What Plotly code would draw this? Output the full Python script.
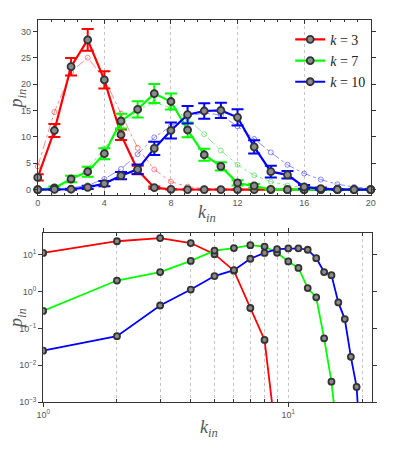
import plotly.graph_objects as go

# data (p_in in %, per k_in)
k_in = list(range(21))

p_k3 = [2.3, 11.2, 23.3, 28.4, 20.8, 10.4, 3.7, 0.36, 0.049, 6.7e-5,
        0, 0, 0, 0, 0, 0, 0, 0, 0, 0, 0]
p_k7 = [0, 0.3, 2.0, 3.4, 6.8, 13.0, 15.2, 18.2, 16.7, 11.3, 6.6,
        4.4, 1.25, 0.7, 0.054, 0.0036, 7e-5, 0, 0, 0, 0]
p_k10 = [0, 0.025, 0.062, 0.42, 1.14, 2.64, 3.83, 7.8, 11.2, 14.2, 14.9,
         15.0, 13.7, 8.1, 3.4, 2.8, 0.51, 0.18, 0.017, 0.0026, 1.2e-5]

err_k3 = [0.6, 1.25, 1.65, 2.05, 1.65, 1.0, 0.8, 0.2, 0.05, 0,
          0, 0, 0, 0, 0, 0, 0, 0, 0, 0, 0]
err_k7 = [0, 0.3, 0.6, 0.95, 1.05, 1.4, 1.55, 1.8, 1.5, 1.4, 1.15,
          0.8, 0.5, 0.35, 0.1, 0, 0, 0, 0, 0, 0]
err_k10 = [0, 0.05, 0.1, 0.3, 0.5, 0.7, 0.9, 1.25, 1.5, 1.65, 1.45,
           1.45, 1.55, 1.25, 1.1, 0.7, 0.35, 0.2, 0.1, 0, 0]

# thin dash-dot reference curves
ref_k3 = [4.4, 14.7, 22.3, 25.0, 21.0, 14.4, 7.9, 3.8, 1.5, 0.56, 0.2,
          0.06, 0.02, 0, 0, 0, 0, 0, 0, 0, 0]
ref_k7 = [0.05, 0.3, 1.8, 4.0, 7.8, 12.0, 15.0, 16.5, 15.5, 13.5, 10.5,
          7.4, 4.7, 2.7, 1.5, 0.75, 0.4, 0.2, 0.1, 0.05, 0.02]
ref_k10 = [0.02, 0.1, 0.3, 0.8, 2.0, 3.9, 6.7, 9.9, 12.0, 13.8, 14.6,
           14.1, 12.0, 9.6, 7.05, 4.7, 3.05, 1.9, 1.0, 0.5, 0.2]

series = [
    ("3", p_k3, err_k3, ref_k3, "#ff0000", "rgba(255,0,0,0.45)"),
    ("7", p_k7, err_k7, ref_k7, "#00ff00", "rgba(0,200,0,0.45)"),
    ("10", p_k10, err_k10, ref_k10, "#0000ff", "rgba(0,0,255,0.45)"),
]

log_x_ticks = [1, 10]
log_x_text = ["10<sup>0</sup>", "10<sup>1</sup>"]
log_y_ticks = [0.001, 0.01, 0.1, 1, 10]
log_y_text = ["10<sup>\u22123</sup>", "10<sup>\u22122</sup>",
              "10<sup>\u22121</sup>", "10<sup>0</sup>", "10<sup>1</sup>"]

W, H = 399, 451
AX = "#333333"
GRID = "#c4c4c4"
TICKFONT = dict(family="Liberation Sans", size=9, color="#555555")
SERIF = "Liberation Serif"

fig = go.Figure()

# top panel: dash-dot references first so the solid lines sit on top
for k, p, e, ref, col, faded in series:
    fig.add_trace(go.Scatter(
        x=k_in, y=ref, mode="lines+markers", showlegend=False,
        line=dict(color=faded, width=1, dash="dashdot"),
        marker=dict(symbol="circle-open", size=5, color=faded,
                    line=dict(width=1)),
        cliponaxis=False, xaxis="x", yaxis="y",
    ))

for k, p, e, ref, col, faded in series:
    fig.add_trace(go.Scatter(
        x=k_in, y=p, mode="lines+markers",
        name=f"<i>k</i> = {k}",
        line=dict(color=col, width=2.2),
        marker=dict(size=7, color="#8a8a8a", line=dict(color=AX, width=1.8)),
        error_y=dict(type="data", array=e, color=col, thickness=2, width=6),
        cliponaxis=False, xaxis="x", yaxis="y",
    ))

# bottom panel: same data on log-log axes (k_in = 0 dropped)
for k, p, e, ref, col, faded in series:
    fig.add_trace(go.Scatter(
        x=k_in[1:], y=[v if v > 0 else None for v in p[1:]],
        mode="lines+markers", showlegend=False,
        line=dict(color=col, width=1.8),
        marker=dict(size=6, color="#8a8a8a", line=dict(color=AX, width=1.8)),
        xaxis="x2", yaxis="y2",
    ))

axis_common = dict(showline=True, linecolor=AX, linewidth=1, mirror="ticks",
                   zeroline=False, tickfont=TICKFONT, tickcolor=AX)

fig.update_layout(
    width=W, height=H,
    margin=dict(l=0, r=0, t=0, b=0),
    paper_bgcolor="white", plot_bgcolor="white",
    showlegend=True,
    legend=dict(x=292 / W, y=1 - 24 / H, xanchor="left", yanchor="top",
                bgcolor="rgba(255,255,255,0)", borderwidth=0,
                font=dict(family=SERIF, size=14, color="#222"),
                itemwidth=30, tracegroupgap=0),
    xaxis=dict(domain=[31.7 / W, 375 / W], range=[0, 20],
               tickvals=[0, 4, 8, 12, 16, 20], ticks="inside", ticklen=4,
               showgrid=True, gridcolor=GRID, gridwidth=1, griddash="dot",
               minor=dict(dtick=0.8, tick0=0, ticks="inside", ticklen=2,
                          tickcolor=AX, showgrid=False),
               **axis_common),
    yaxis=dict(domain=[1 - 196.7 / H, 1 - 20 / H], range=[-0.94, 32.2],
               tickvals=[0, 5, 10, 15, 20, 25, 30], ticks="outside",
               ticklen=4, showgrid=False, **axis_common),
    xaxis2=dict(domain=[37.3 / W, 376.7 / W], type="log", range=[0, 1.343],
                tickvals=log_x_ticks, ticktext=log_x_text, ticks="outside",
                ticklen=4, showgrid=True, gridcolor=GRID, gridwidth=1,
                griddash="dot",
                minor=dict(tickvals=[2, 3, 4, 5, 6, 7, 8, 9, 20],
                           ticks="inside", ticklen=3, tickcolor=AX,
                           showgrid=True, gridcolor=GRID, gridwidth=1,
                           griddash="dot"),
                anchor="y2", **axis_common),
    yaxis2=dict(domain=[1 - 406.7 / H, 1 - 235.3 / H], type="log",
                range=[-3, 1.599], tickvals=log_y_ticks, ticktext=log_y_text,
                ticks="outside", ticklen=4, showgrid=False, anchor="x2",
                **axis_common),
)

title_font = dict(family=SERIF, size=18, color="#555555")
for x_px, y_px, txt, ang in [
    (11, 100, "<i>p<sub>in</sub></i>", -90),
    (206, 216, "<i>k<sub>in</sub></i>", 0),
    (11, 322, "<i>p<sub>in</sub></i>", -90),
    (208, 433, "<i>k<sub>in</sub></i>", 0),
]:
    fig.add_annotation(x=x_px / W, y=1 - y_px / H, xref="paper", yref="paper",
                       xanchor="center", yanchor="middle",
                       text=txt, showarrow=False, textangle=ang,
                       font=title_font)

fig.write_html("out.html", config={"displayModeBar": False},
               post_script="document.body.style.margin='0px';")
